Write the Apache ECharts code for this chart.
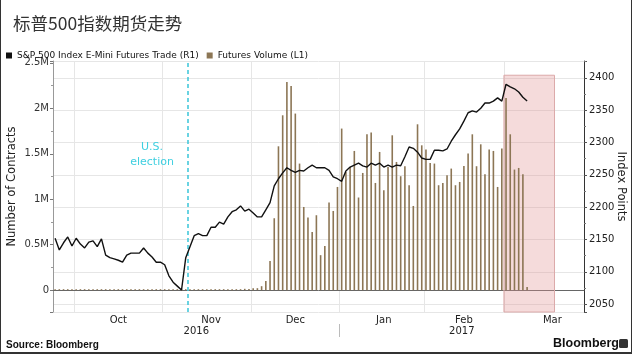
<!DOCTYPE html>
<html>
<head>
<meta charset="utf-8">
<script src="https://cdn.jsdelivr.net/npm/echarts@6/dist/echarts.min.js"></script>
<style>
  html, body { margin: 0; padding: 0; background: #fff; }
  #wrap { position: relative; width: 632px; height: 354px; }
  #chart { width: 632px; height: 354px; }
  #frame { position: absolute; left: 0; top: 0; width: 632px; height: 354px; box-sizing: border-box;
           border-left: 1px solid #333; border-right: 1px solid #333; border-bottom: 2px solid #333; pointer-events: none; }
</style>
</head>
<body>
<div id="wrap"><div id="chart"></div><div id="frame"></div></div>
<script>
// trading days shown on the x axis, one list per month
var sep16 = [26, 27, 28, 29, 30];
var oct16 = [3, 4, 5, 6, 7, 10, 11, 12, 13, 14, 17, 18, 19, 20, 21, 24, 25, 26, 27, 28, 31];
var nov16 = [1, 2, 3, 4, 7, 8, 9, 10, 11, 14, 15, 16, 17, 18, 21, 22, 23, 25, 28, 29, 30];
var dec16 = [1, 2, 5, 6, 7, 8, 9, 12, 13, 14, 15, 16, 19, 20, 21, 22, 23, 27, 28, 29, 30];
var jan17 = [3, 4, 5, 6, 9, 10, 11, 12, 13, 17, 18, 19, 20, 23, 24, 25, 26, 27, 30, 31];
var feb17 = [1, 2, 3, 6, 7, 8, 9, 10, 13, 14, 15, 16, 17, 21, 22, 23, 24, 27, 28];
var mar17 = [1, 2, 3, 6, 7, 8, 9, 10, 13, 14, 15, 16, 17, 20, 21, 22, 23, 24, 27];

// S&P 500 E-mini futures (index points), from the first trading day
var futuresTrade = [
  2152, 2134, 2145, 2154, 2140, 2152, 2143, 2137, 2146, 2148,
  2139, 2151, 2126, 2122, 2120, 2118, 2115, 2126, 2129, 2129,
  2129, 2137, 2129, 2123, 2115, 2115, 2111, 2094, 2084, 2078,
  2072, 2122, 2139, 2156, 2159, 2156, 2156, 2169, 2169, 2177,
  2174, 2185, 2193, 2196, 2202, 2194, 2197, 2191, 2185, 2185,
  2196, 2207, 2233, 2244, 2253, 2261, 2257, 2254, 2257, 2256,
  2261, 2265, 2261, 2261, 2261, 2257, 2247, 2244, 2240, 2256,
  2262, 2265, 2268, 2264, 2262, 2268, 2265, 2268, 2262, 2265,
  2262, 2265, 2264, 2278, 2293, 2291, 2285, 2276, 2274, 2274,
  2288, 2288, 2287, 2290, 2302, 2312, 2321, 2333, 2346, 2349,
  2347, 2353, 2361, 2361, 2364, 2369, 2364, 2390, 2386, 2383,
  2378, 2370, 2364
];

// futures volume (contracts), same days
var futuresVolume = [
  4000, 3000, 5000, 3000, 4000, 3000, 4000, 5000, 3000, 4000,
  3000, 4000, 3000, 5000, 4000, 3000, 4000, 3000, 5000, 4000,
  3000, 4000, 5000, 3000, 4000, 3000, 5000, 4000, 6000, 5000,
  4000, 6000, 5000, 4000, 5000, 4000, 5000, 6000, 5000, 6000,
  5000, 7000, 6000, 8000, 9000, 15000, 12000, 20000, 22000, 44000,
  102000, 321000, 791000, 1582000, 1923000, 2289000, 2245000, 1942000, 1392000, 915000,
  799000, 641000, 824000, 385000, 487000, 964000, 871000, 1135000, 1777000, 1300000,
  1355000, 1531000, 1019000, 1289000, 1714000, 1733000, 1179000, 1520000, 1099000, 1355000,
  1703000, 1410000, 1253000, 1363000, 1154000, 926000, 1824000, 1593000, 1546000, 1399000,
  1392000, 1154000, 1179000, 1264000, 1337000, 1154000, 1190000, 1366000, 1502000, 1714000,
  1363000, 1604000, 1275000, 1546000, 1531000, 1135000, 1557000, 2113000, 1714000, 1326000,
  1344000, 1275000, 36000
];

var monthLabelDays = ['2016-10-17', '2016-11-16', '2016-12-15', '2017-01-18', '2017-02-14', '2017-03-16'];
var monthNames = { '10': 'Oct', '11': 'Nov', '12': 'Dec', '01': 'Jan', '02': 'Feb', '03': 'Mar' };
var yearStart2017 = '2017-01-03';
var electionNextDay = '2016-11-09';
var electionNote = ['2016-10-27', 2282];
var rollStart = '2017-03-01';
var rollEnd = '2017-03-17';
var rollTop = 2404;

var leftMin = -240000, leftMax = 2520000;
var rightMin = 2038, rightMax = 2426;

function days(ym, list) {
  return list.map(function(d) { return ym + '-' + (d < 10 ? '0' + d : d); });
}
var categories = [].concat(
  days('2016-09', sep16), days('2016-10', oct16), days('2016-11', nov16), days('2016-12', dec16),
  days('2017-01', jan17), days('2017-02', feb17), days('2017-03', mar17)
);
var N = categories.length;

var monthStart = categories.map(function(d, i) {
  return i > 0 && d.slice(5, 7) !== categories[i - 1].slice(5, 7);
});
var labelAt = categories.map(function(d) { return monthLabelDays.indexOf(d) >= 0; });
var idxYear = categories.indexOf(yearStart2017);

var font = 'DejaVu Sans';
var chart = echarts.init(document.getElementById('chart'));

chart.setOption({
  animation: false,
  title: {
    text: '标普500指数期货走势',
    left: 8, top: 10,
    textStyle: { fontFamily: 'Noto Sans CJK SC', fontSize: 17.5, fontWeight: 'normal', color: '#333' }
  },
  legend: {
    left: 1, top: 46,
    itemWidth: 6, itemHeight: 6, itemGap: 8,
    textStyle: { fontFamily: font, fontSize: 9, color: '#111' },
    data: [
      { name: 'S&P 500 Index E-Mini Futures Trade (R1)', icon: 'rect', itemStyle: { color: '#111' } },
      { name: 'Futures Volume (L1)', icon: 'rect', itemStyle: { color: '#8c7655' } }
    ]
  },
  grid: { left: 53, right: 48, top: 61, bottom: 42, outerBoundsMode: 'none', containLabel: false },
  xAxis: [
    {
      type: 'category',
      data: categories,
      boundaryGap: true,
      axisLine: { lineStyle: { color: '#666' } },
      axisTick: { interval: function(i) { return monthStart[i]; }, length: 3, lineStyle: { color: '#666' } },
      splitLine: { show: true, interval: function(i) { return monthStart[i]; }, lineStyle: { color: '#e6e6e6' } },
      axisLabel: {
        interval: function(i) { return labelAt[i]; },
        formatter: function(v) { return monthNames[v.slice(5, 7)]; },
        color: '#222', fontFamily: font, fontSize: 10, margin: 3
      }
    },
    {
      type: 'value',
      min: 0, max: N,
      position: 'bottom',
      offset: 12,
      axisLine: { show: false },
      axisTick: { show: true, customValues: [idxYear], length: 13, lineStyle: { color: '#bbb' } },
      axisLabel: {
        customValues: [idxYear / 2, (idxYear + N) / 2],
        formatter: function(v) { return v < idxYear ? '2016' : '2017'; },
        color: '#222', fontFamily: font, fontSize: 10, margin: 2
      },
      splitLine: { show: false }
    }
  ],
  yAxis: [
    {
      type: 'value',
      position: 'left',
      min: leftMin, max: leftMax, splitNumber: 5,
      name: 'Number of Contracts',
      nameLocation: 'middle', nameGap: 35, nameRotate: 90, nameMoveOverlap: false,
      nameTextStyle: { fontFamily: font, fontSize: 11.5, color: '#222' },
      axisLine: { show: true, lineStyle: { color: '#999' } },
      axisTick: { show: true, length: 3, lineStyle: { color: '#777' } },
      minorTick: { show: true, splitNumber: 2, length: 2, lineStyle: { color: '#999' } },
      splitLine: { show: false },
      axisLabel: {
        showMinLabel: false, showMaxLabel: false,
        formatter: function(v) {
          if (v === 0) return '0';
          if (v > 0 && v % 500000 === 0) return (v / 1e6) + 'M';
          return '';
        },
        color: '#333', fontFamily: font, fontSize: 10, margin: 4
      }
    },
    {
      type: 'value',
      position: 'right',
      min: rightMin, max: rightMax, splitNumber: 8,
      name: 'Index Points',
      nameLocation: 'middle', nameGap: 31, nameRotate: -90, nameMoveOverlap: false,
      nameTextStyle: { fontFamily: font, fontSize: 11.5, color: '#222' },
      axisLine: { show: true, lineStyle: { color: '#333' } },
      axisTick: { show: true, length: 3, lineStyle: { color: '#555' } },
      minorTick: { show: true, splitNumber: 2, length: 2, lineStyle: { color: '#777' } },
      splitLine: { show: true, lineStyle: { color: '#e6e6e6' } },
      axisLabel: {
        showMinLabel: false, showMaxLabel: false,
        formatter: function(v) { return v % 50 === 0 ? String(v) : ''; },
        color: '#222', fontFamily: font, fontSize: 10, margin: 5
      }
    }
  ],
  series: [
    {
      name: 'Futures Volume (L1)',
      type: 'bar',
      xAxisIndex: 0, yAxisIndex: 0,
      data: futuresVolume,
      barWidth: 1.6,
      barMinHeight: 1,
      itemStyle: { color: '#8c7655' },
      z: 2
    },
    {
      name: 'S&P 500 Index E-Mini Futures Trade (R1)',
      type: 'line',
      xAxisIndex: 0, yAxisIndex: 1,
      data: futuresTrade,
      symbol: 'none',
      lineStyle: { color: '#111', width: 1.4 },
      itemStyle: { color: '#111' },
      z: 5,
      markPoint: {
        silent: true,
        symbol: 'rect', symbolSize: 1,
        itemStyle: { color: 'rgba(0,0,0,0)' },
        label: {
          show: true, position: 'inside',
          formatter: 'U.S.\nelection',
          color: '#3fcfe0', fontFamily: font, fontSize: 11, lineHeight: 15
        },
        data: [{ coord: electionNote }]
      }
    },
    {
      name: 'marks',
      type: 'line',
      xAxisIndex: 1, yAxisIndex: 1,
      data: [],
      silent: true,
      markArea: {
        silent: true,
        itemStyle: { color: 'rgba(226,150,150,0.34)', borderColor: '#dcaaaa', borderWidth: 1 },
        data: [[
          { xAxis: categories.indexOf(rollStart), yAxis: rollTop },
          { xAxis: categories.indexOf(rollEnd), yAxis: rightMin }
        ]]
      },
      markLine: {
        silent: true,
        symbol: 'none',
        label: { show: false },
        lineStyle: { color: '#45c9db', type: [4, 3], width: 1.6 },
        data: [{ xAxis: categories.indexOf(electionNextDay) }]
      }
    }
  ],
  graphic: [
    {
      type: 'text', left: 6, top: 340,
      style: { text: 'Source: Bloomberg', font: 'bold 10px "Liberation Sans"', fill: '#111' }
    },
    {
      type: 'text', left: 553, top: 337,
      style: { text: 'Bloomberg', font: 'bold 12.5px "Liberation Sans"', fill: '#111' }
    },
    {
      type: 'rect', left: 619, top: 339,
      shape: { width: 9, height: 9, r: 1.5 },
      style: { fill: '#333' }
    }
  ]
});
</script>
</body>
</html>
